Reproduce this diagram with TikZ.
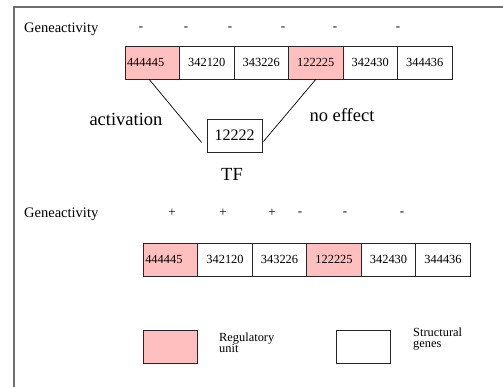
\documentclass[tikz,border=0pt]{standalone}
\usepackage{fontspec}
\setmainfont{Liberation Serif}
\usetikzlibrary{calc}
\definecolor{regpink}{RGB}{255,191,191}
\definecolor{framegray}{RGB}{110,110,110}
\tikzset{
  gene/.style={draw=black!85, line width=0.9pt, minimum width=54.5pt, minimum height=33pt, inner sep=0pt, font=\fontsize{12.4}{12}\selectfont, anchor=center},
  reg/.style={gene, fill=regpink},
  regl/.style={reg, text width=50.5pt, align=left},
  big/.style={font=\fontsize{18.5}{20}\selectfont, inner sep=0pt},
  act/.style={font=\fontsize{14.5}{16}\selectfont, inner sep=0pt},
  sign/.style={font=\fontsize{13}{14}\selectfont, inner sep=0pt},
  legtext/.style={font=\fontsize{12.4}{11.5}\selectfont, align=left, inner sep=0pt, anchor=west},
  conn/.style={line width=0.7pt, black}
}
\begin{document}
\begin{tikzpicture}[x=1pt, y=-1pt]
\useasboundingbox (0,0) rectangle (503,387);
% frame
\draw[framegray, line width=1.3pt] (14,387) -- (14,7) -- (503,7);

% top row
\node[act, anchor=west] (ga1) at (24,29) {Geneactivity};
\foreach \x/\n in {141/s1,186/s2,230/s3,283/s4,335/s5,398/s6}
  \node[sign] (\n) at (\x,29) {-};

\node[regl] (b1) at (152.25,62.5) {444445};
\node[gene] (b2) at (206.75,62.5) {342120};
\node[gene] (b3) at (261.25,62.5) {343226};
\node[reg]  (b4) at (315.75,62.5) {122225};
\node[gene] (b5) at (370.25,62.5) {342430};
\node[gene] (b6) at (424.75,62.5) {344436};

% TF
\node[draw=black!85, line width=0.9pt, minimum width=55pt, minimum height=33pt, inner sep=0pt, font=\fontsize{16}{18}\selectfont] (tf) at (234.5,135.5) {12222};
\node[big] (tfl) at (232,174) {TF};
\node[big] (actl) at (126,119) {activation};
\node[big] (noef) at (342,115) {no effect};

\draw[conn] ([xshift=-3pt]b1.south) -- ($(tf.south west)+(-5,-10)$);
\draw[conn] (b4.south) -- ($(tf.south east)+(1,-11)$);

% second row
\node[act, anchor=west] (ga2) at (24,214) {Geneactivity};
\node[sign] (p1) at (172,213) {+};
\node[sign] (p2) at (223,213) {+};
\node[sign] (p3) at (272,213) {+};
\node[sign] (m1) at (300,214) {-};
\node[sign] (m2) at (345,214) {-};
\node[sign] (m3) at (402,214) {-};

\node[regl] (c1) at (170.5,259.5) {444445};
\node[gene] (c2) at (225,259.5) {342120};
\node[gene] (c3) at (279.5,259.5) {343226};
\node[reg]  (c4) at (334,259.5) {122225};
\node[gene] (c5) at (388.5,259.5) {342430};
\node[gene] (c6) at (443,259.5) {344436};

% legend
\node[reg] (lr) at (170.5,346.5) {};
\node[legtext] (lrt) at (219,343) {Regulatory\\unit};
\node[gene] (lg) at (363.5,346.5) {};
\node[legtext] (lgt) at (413,339) {Structural\\genes};
\end{tikzpicture}
\end{document}
